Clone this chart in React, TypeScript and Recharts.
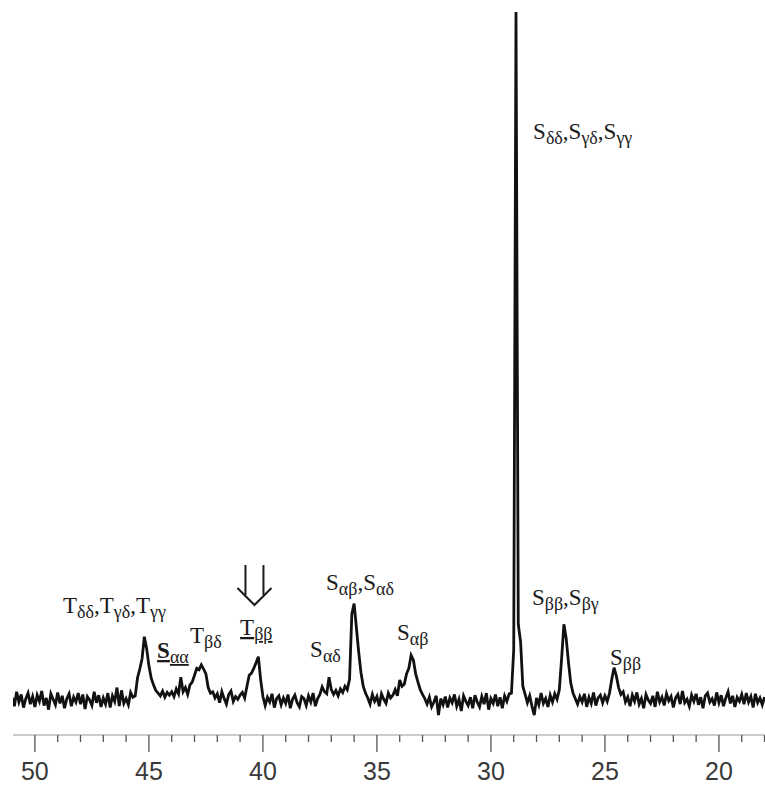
import React from 'react';
import { LineChart, Line, XAxis, YAxis, ReferenceDot } from 'recharts';

// 13C spectrum, 0.1 ppm steps from 51.0 down to 18.0 ppm
const START_PPM = 51.0;
const STEP_PPM = 0.1;

const intensity = [
  0.4, -0.9, 1.2, -0.3, 0.8, -1.1, 0.2, 1.0, -0.6, 0.5, // 51.0 - 50.1
  -1.0, 0.7, -0.2, 1.3, -0.8, 0.3, -1.4, 0.9, 0.1, -0.7, // 50.0 - 49.1
  1.1, -0.5, 0.6, -1.2, 0.2, 0.9, -0.9, 0.4, -0.3, 1.0, // 49.0 - 48.1
  -0.6, 0.8, -1.3, 0.5, 0.0, -0.8, 1.2, -0.4, 0.7, -1.0, // 48.0 - 47.1
  0.3, -0.6, 1.0, -1.1, 0.6, -0.2, 1.8, -0.9, 1.4, -0.5, // 47.0 - 46.1
  0.2, -0.7, 1.1, 0.4, 0.6, 3.2, 4.5, 6.0, 9.2, 7.5, // 46.0 - 45.1
  5.0, 3.2, 2.2, 1.4, 1.0, 0.6, 1.3, 0.4, 1.1, 0.7, // 45.0 - 44.1
  1.2, 0.5, 1.6, 0.9, 3.3, 1.2, 1.8, 0.8, 2.2, 2.6, // 44.0 - 43.1
  3.6, 4.6, 4.4, 5.1, 4.5, 3.8, 1.8, 1.0, 1.2, 0.3, // 43.0 - 42.1
  0.9, -0.4, 1.2, 0.2, -0.6, 0.8, 1.3, -0.2, 0.5, 0.1, // 42.0 - 41.1
  0.7, 1.1, 0.3, 2.0, 3.6, 3.9, 4.6, 5.4, 6.3, 3.0, // 41.0 - 40.1
  0.5, -0.8, 0.4, -0.3, 0.9, -1.1, 0.2, 0.6, -0.7, 0.3, // 40.0 - 39.1
  -0.5, 0.8, -1.2, 0.1, 0.7, -0.4, -1.0, 0.5, 0.2, -0.8, // 39.0 - 38.1
  0.6, -0.3, 1.0, -0.9, 0.2, 0.8, 1.9, 1.2, 0.9, 3.3, // 38.0 - 37.1
  1.5, 0.8, 1.4, 0.6, 1.6, 1.1, 2.0, 1.5, 3.0, 12.5, // 37.0 - 36.1
  14.0, 10.5, 7.0, 4.0, 2.0, 1.0, 0.3, -0.6, 0.8, -0.2, // 36.0 - 35.1
  0.5, -0.9, 0.9, 0.1, -0.5, 1.0, 0.3, 0.7, 1.5, 0.6, // 35.0 - 34.1
  2.9, 2.0, 2.3, 3.8, 4.6, 6.5, 5.8, 3.8, 2.6, 1.5, // 34.0 - 33.1
  0.8, 0.2, -0.6, 0.4, -1.0, -0.3, 0.6, -2.2, 0.2, -0.7, // 33.0 - 32.1
  0.5, -1.1, 0.3, -0.4, 0.8, -0.9, 0.1, -1.6, 0.6, -0.2, // 32.0 - 31.1
  -0.8, 0.4, -1.2, 0.7, -0.3, -1.0, 0.5, -0.6, 1.0, -1.4, // 31.0 - 30.1
  0.2, -0.5, 0.8, -0.9, 0.4, -1.2, 0.6, -0.2, 0.9, 1.0, // 30.0 - 29.1
  7.3, 100, 11.0, 8.5, 2.0, 0.8, -0.4, 0.6, -0.9, -2.2, // 29.0 - 28.1
  0.3, -0.7, 1.0, -0.5, 0.2, -1.0, 0.7, -0.3, 0.9, 0.1, // 28.0 - 27.1
  1.5, 6.0, 11.0, 9.0, 5.5, 2.5, 1.0, 0.2, -0.6, 0.5, // 27.0 - 26.1
  -0.3, 0.9, -1.0, 0.4, -0.5, 1.1, -0.8, 0.3, 0.7, -0.4, // 26.0 - 25.1
  0.6, -0.2, 1.0, 3.0, 4.7, 3.5, 1.8, 0.8, 1.2, -0.3, // 25.0 - 24.1
  0.4, -0.9, 0.7, -0.2, 1.1, -0.6, 0.2, -1.2, 0.8, 0.0, // 24.0 - 23.1
  -0.5, 0.6, -1.0, 1.2, -0.3, 0.4, -0.8, 0.9, -0.1, 0.5, // 23.0 - 22.1
  -1.1, 0.3, 0.8, -0.6, 1.3, -0.4, 0.1, -0.9, 0.7, -0.2, // 22.0 - 21.1
  0.9, -0.7, 0.4, -1.2, 0.6, 1.0, -0.3, 0.2, -0.8, 1.1, // 21.0 - 20.1
  -0.4, 0.7, -0.9, 0.3, 1.2, -0.5, 0.6, -1.0, 0.4, -0.2, // 20.0 - 19.1
  0.8, -0.6, 1.0, -0.3, 0.5, -1.1, 0.9, -0.4, 0.3, -0.7, // 19.0 - 18.1
  0.4, // 18.0
];

const axisTicks = [
  18, 19, 20, 21, 22, 23, 24, 25, 26, 27, 28, 29, 30, 31, 32, 33, 34,
  35, 36, 37, 38, 39, 40, 41, 42, 43, 44, 45, 46, 47, 48, 49, 50,
];

// peak assignments: [letter, subscript] pairs
const labelParts: [string, string][][] = [
  [['T', 'δδ'], ['T', 'γδ'], ['T', 'γγ']],
  [['S', 'αα']],
  [['T', 'βδ']],
  [['T', 'ββ']],
  [['S', 'αδ']],
  [['S', 'αβ'], ['S', 'αδ']],
  [['S', 'αβ']],
  [['S', 'δδ'], ['S', 'γδ'], ['S', 'γγ']],
  [['S', 'ββ'], ['S', 'βγ']],
  [['S', 'ββ']],
];
const labelPpm = [48.77, 44.64, 43.2, 41.0, 37.93, 37.23, 34.12, 28.15, 28.2, 24.78];
const labelLevel = [12.65, 6.1, 8.3, 9.45, 6.25, 16.0, 8.7, 81.5, 13.8, 5.1];
const labelUnderlined = [false, true, false, true, false, false, false, false, false, false];

const arrowPpm = 40.37;
const arrowLevel = 13.8;

const data = intensity.map((v, i) => ({
  ppm: +(START_PPM - i * STEP_PPM).toFixed(1),
  v,
}));

const SERIF = "'Liberation Serif', 'Times New Roman', serif";

const AxisTick = ({ x, y, payload }: any) => {
  const major = payload.value % 5 === 0;
  return (
    <g>
      <line x1={x} y1={y} x2={x} y2={y + (major ? 17 : 7)} stroke="#555" strokeWidth={1.3} />
      {major && (
        <text
          x={x}
          y={y + 45}
          textAnchor="middle"
          fontFamily="'Liberation Sans', Arial, sans-serif"
          fontSize={25}
          fill="#3a3a3a"
        >
          {payload.value}
        </text>
      )}
    </g>
  );
};

const makeLabel = (idx: number) => (props: any) => {
  const { cx, cy } = props;
  const under = labelUnderlined[idx];
  return (
    <text x={cx} y={cy} fontFamily={SERIF} fontSize={23} fill="#1a1a1a">
      {labelParts[idx].map(([m, s], i) => (
        <React.Fragment key={i}>
          <tspan
            dy={i === 0 ? 0 : -5}
            fontWeight={under && idx === 1 ? 'bold' : 'normal'}
            textDecoration={under ? 'underline' : undefined}
          >
            {(i > 0 ? ',' : '') + m}
          </tspan>
          <tspan fontSize={18} dy={5} textDecoration={under ? 'underline' : undefined}>
            {s}
          </tspan>
        </React.Fragment>
      ))}
    </text>
  );
};

const ArrowShape = ({ cx, cy }: any) => (
  <g fill="none" stroke="#1a1a1a" strokeWidth={2}>
    <path d={`M${cx - 9},${cy - 40} L${cx - 9},${cy - 10}`} />
    <path d={`M${cx + 9},${cy - 40} L${cx + 9},${cy - 10}`} />
    <path d={`M${cx - 17},${cy - 17} L${cx},${cy} L${cx + 17},${cy - 17}`} />
  </g>
);

export default function App() {
  return (
    <div style={{ position: 'absolute', left: 0, top: 0, background: '#fff' }}>
      <LineChart
        width={765}
        height={787}
        data={data}
        margin={{ top: 12, right: 0, bottom: 12, left: 13 }}
      >
        <XAxis
          dataKey="ppm"
          type="number"
          reversed
          domain={[17.98, 50.96]}
          allowDataOverflow
          ticks={axisTicks}
          interval={0}
          tick={<AxisTick />}
          tickLine={false}
          tickSize={0}
          tickMargin={0}
          axisLine={{ stroke: '#999', strokeWidth: 1.2 }}
          height={40}
        />
        <YAxis hide type="number" domain={[-5.09, 100]} allowDataOverflow />
        <Line
          type="linear"
          dataKey="v"
          stroke="#111"
          strokeWidth={2.8}
          strokeLinejoin="miter"
          dot={false}
          isAnimationActive={false}
        />
        {labelParts.map((_, i) => (
          <ReferenceDot
            key={i}
            x={labelPpm[i]}
            y={labelLevel[i]}
            r={0}
            shape={makeLabel(i)}
          />
        ))}
        <ReferenceDot x={arrowPpm} y={arrowLevel} r={0} shape={ArrowShape} />
      </LineChart>
    </div>
  );
}
